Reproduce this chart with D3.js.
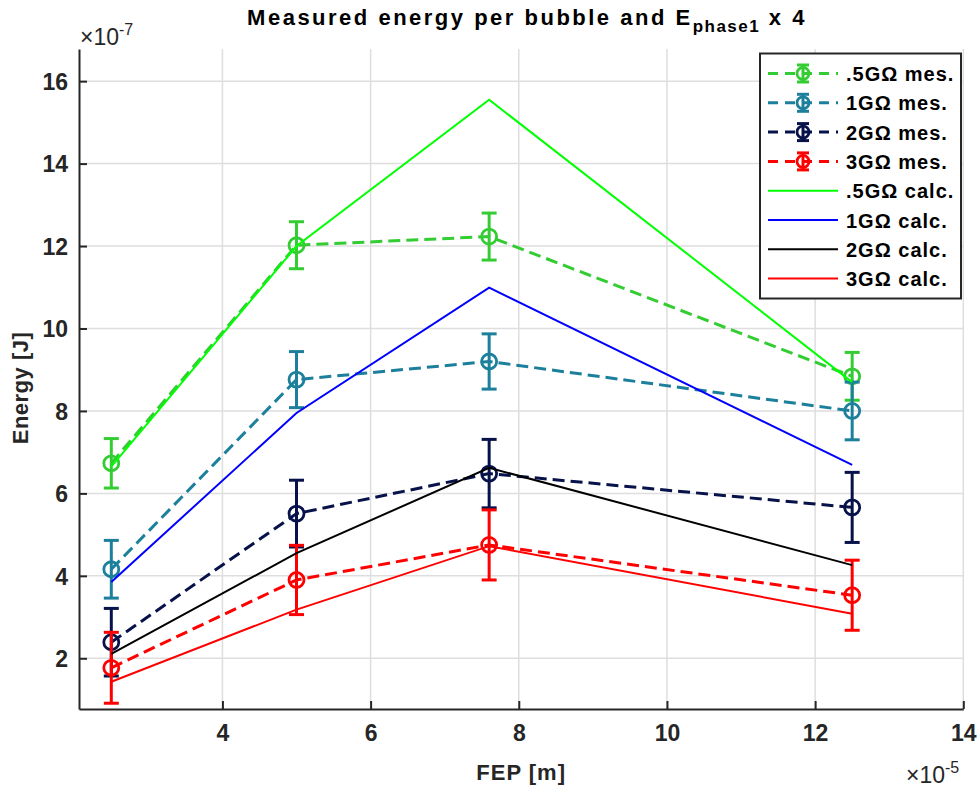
<!DOCTYPE html>
<html>
<head>
<meta charset="utf-8">
<script src="https://cdn.jsdelivr.net/npm/d3@7"></script>
<style>
  html, body { margin: 0; padding: 0; background: #fff; }
  svg { display: block; font-family: "Liberation Sans", Arial, Helvetica, sans-serif; }
</style>
</head>
<body>
<svg id="chart" width="979" height="790"></svg>
<script>
// FEP positions (x 1e-5 m)
const fep = [2.5, 5, 7.6, 12.5];

// Measured energy per bubble (x 1e-7 J) with error bar half-widths
const mes05 = [6.73, 12.02, 12.23, 8.84];
const err05 = [0.60, 0.57, 0.57, 0.58];
const mes1  = [4.16, 8.76, 9.20, 8.00];
const err1  = [0.70, 0.68, 0.67, 0.70];
const mes2  = [2.39, 5.51, 6.48, 5.66];
const err2  = [0.82, 0.81, 0.83, 0.85];
const mes3  = [1.77, 3.90, 4.75, 3.53];
const err3  = [0.86, 0.84, 0.85, 0.85];

// Calculated E_phase1 x 4 (x 1e-7 J)
const calc05 = [6.65, 12.00, 15.55, 8.70];
const calc1  = [3.85, 7.95, 10.99, 6.69];
const calc2  = [2.11, 4.55, 6.62, 4.26];
const calc3  = [1.43, 3.18, 4.72, 3.08];

// Axis ticks
const xTicks = [4, 6, 8, 10, 12, 14];
const yTicks = [2, 4, 6, 8, 10, 12, 14, 16];

const measured = [
  { name: ".5GΩ mes.", values: mes05, err: err05, color: "#33cc33" },
  { name: "1GΩ mes.",  values: mes1,  err: err1,  color: "#1c7f9c" },
  { name: "2GΩ mes.",  values: mes2,  err: err2,  color: "#08124a" },
  { name: "3GΩ mes.",  values: mes3,  err: err3,  color: "#ff0000" }
];
const calculated = [
  { name: ".5GΩ calc.", values: calc05, color: "#00ff00" },
  { name: "1GΩ calc.",  values: calc1,  color: "#0000ff" },
  { name: "2GΩ calc.",  values: calc2,  color: "#000000" },
  { name: "3GΩ calc.",  values: calc3,  color: "#ff0000" }
];

const plot = { left: 79, right: 963.3, top: 49, bottom: 709 };
const x = d3.scaleLinear().domain([2.064, 14]).range([plot.left, plot.right]);
const y = d3.scaleLinear().domain([0.77, 16.78]).range([plot.bottom, plot.top]);

const svg = d3.select("#chart");
const axisColor = "#262626";
const gridColor = "#dedede";

// grid
const grid = svg.append("g");
grid.selectAll("line.gx").data(xTicks).join("line")
  .attr("x1", d => x(d)).attr("x2", d => x(d))
  .attr("y1", plot.top).attr("y2", plot.bottom)
  .attr("stroke", gridColor).attr("stroke-width", 1.5);
grid.selectAll("line.gy").data(yTicks).join("line")
  .attr("x1", plot.left).attr("x2", plot.right)
  .attr("y1", d => y(d)).attr("y2", d => y(d))
  .attr("stroke", gridColor).attr("stroke-width", 1.5);

const line = d3.line().x((d, i) => x(fep[i])).y(d => y(d));

// measured series: dashed line, error bars, circle markers
const capW = 7.5;
measured.forEach(s => {
  const g = svg.append("g");
  g.append("path").datum(s.values)
    .attr("d", line).attr("fill", "none")
    .attr("stroke", s.color).attr("stroke-width", 3)
    .attr("stroke-dasharray", "12,6");
  s.values.forEach((v, i) => {
    const cx = x(fep[i]);
    const y0 = y(v - s.err[i]), y1 = y(v + s.err[i]);
    g.append("line").attr("x1", cx).attr("x2", cx).attr("y1", y0).attr("y2", y1)
      .attr("stroke", s.color).attr("stroke-width", 3);
    [y0, y1].forEach(yy => g.append("line")
      .attr("x1", cx - capW).attr("x2", cx + capW).attr("y1", yy).attr("y2", yy)
      .attr("stroke", s.color).attr("stroke-width", 3));
    g.append("circle").attr("cx", cx).attr("cy", y(v)).attr("r", 7.5)
      .attr("fill", "none").attr("stroke", s.color).attr("stroke-width", 2.8);
  });
});

// calculated series
calculated.forEach(s => {
  svg.append("path").datum(s.values)
    .attr("d", line).attr("fill", "none")
    .attr("stroke", s.color).attr("stroke-width", 2);
});

// axes
const xAxis = d3.axisBottom(x).tickValues(xTicks).tickSizeInner(-8).tickSizeOuter(0).tickPadding(16);
const yAxis = d3.axisLeft(y).tickValues(yTicks).tickSizeInner(-8).tickSizeOuter(0).tickPadding(11);

const gx = svg.append("g").attr("transform", `translate(0,${plot.bottom})`).call(xAxis);
const gy = svg.append("g").attr("transform", `translate(${plot.left},0)`).call(yAxis);
[gx, gy].forEach(g => {
  g.select(".domain").attr("stroke", axisColor).attr("stroke-width", 2);
  g.selectAll(".tick line").attr("stroke", axisColor).attr("stroke-width", 2);
  g.selectAll(".tick text").attr("fill", axisColor)
    .style("font-size", "23px").style("font-weight", "bold")
    .style("font-family", "'Liberation Sans', Arial, sans-serif");
});
gx.selectAll(".tick text").attr("dy", "0.68em");
gy.selectAll(".tick text").attr("dy", "0.36em");

// axis labels
svg.append("text").attr("x", (plot.left + plot.right) / 2).attr("y", 780)
  .attr("text-anchor", "middle").attr("fill", axisColor)
  .style("font-size", "22px").style("font-weight", "bold").style("letter-spacing", "1px")
  .text("FEP [m]");
svg.append("text").attr("transform", `translate(28,388) rotate(-90)`)
  .attr("text-anchor", "middle").attr("fill", axisColor)
  .style("font-size", "22px").style("font-weight", "bold").style("letter-spacing", "0.5px")
  .text("Energy [J]");

// exponent multipliers
function multiplier(px, py, exp) {
  const t = svg.append("text").attr("x", px).attr("y", py).attr("fill", axisColor)
    .style("font-size", "23px");
  t.append("tspan").text("×10");
  t.append("tspan").attr("dy", -10).style("font-size", "16px").text(exp);
}
multiplier(80, 45, "-7");
multiplier(906, 783, "-5");

// title
const title = svg.append("text").attr("x", 527).attr("y", 25)
  .attr("text-anchor", "middle").attr("fill", "#000")
  .style("font-size", "22px").style("font-weight", "bold").style("letter-spacing", "2.5px");
title.append("tspan").text("Measured energy per bubble and E");
title.append("tspan").attr("dy", 7).style("font-size", "17px").style("letter-spacing", "1.5px").text("phase1");
title.append("tspan").attr("dy", -7).text(" x 4");

// legend
const legend = svg.append("g");
legend.append("rect").attr("x", 760).attr("y", 53.5).attr("width", 201).attr("height", 245)
  .attr("fill", "#fff").attr("stroke", axisColor).attr("stroke-width", 2);
const rowY = i => 73.5 + i * 29.3;
const entries = measured.map(s => ({ ...s, kind: "mes" }))
  .concat(calculated.map(s => ({ ...s, kind: "calc" })));
entries.forEach((s, i) => {
  const cy = rowY(i);
  const g = legend.append("g");
  if (s.kind === "mes") {
    g.append("line").attr("x1", 768).attr("x2", 838).attr("y1", cy).attr("y2", cy)
      .attr("stroke", s.color).attr("stroke-width", 3).attr("stroke-dasharray", "10,7");
    g.append("line").attr("x1", 803).attr("x2", 803).attr("y1", cy - 8.5).attr("y2", cy + 8.5)
      .attr("stroke", s.color).attr("stroke-width", 3);
    [cy - 8.5, cy + 8.5].forEach(yy => g.append("line")
      .attr("x1", 797).attr("x2", 809).attr("y1", yy).attr("y2", yy)
      .attr("stroke", s.color).attr("stroke-width", 3));
    g.append("circle").attr("cx", 803).attr("cy", cy).attr("r", 6)
      .attr("fill", "none").attr("stroke", s.color).attr("stroke-width", 2.8);
  } else {
    g.append("line").attr("x1", 768).attr("x2", 838).attr("y1", cy).attr("y2", cy)
      .attr("stroke", s.color).attr("stroke-width", 2);
  }
  g.append("text").attr("x", 846).attr("y", cy + 7.5).attr("fill", "#000")
    .style("font-size", "20px").style("font-weight", "bold").style("letter-spacing", "1px")
    .text(s.name);
});
</script>
</body>
</html>
